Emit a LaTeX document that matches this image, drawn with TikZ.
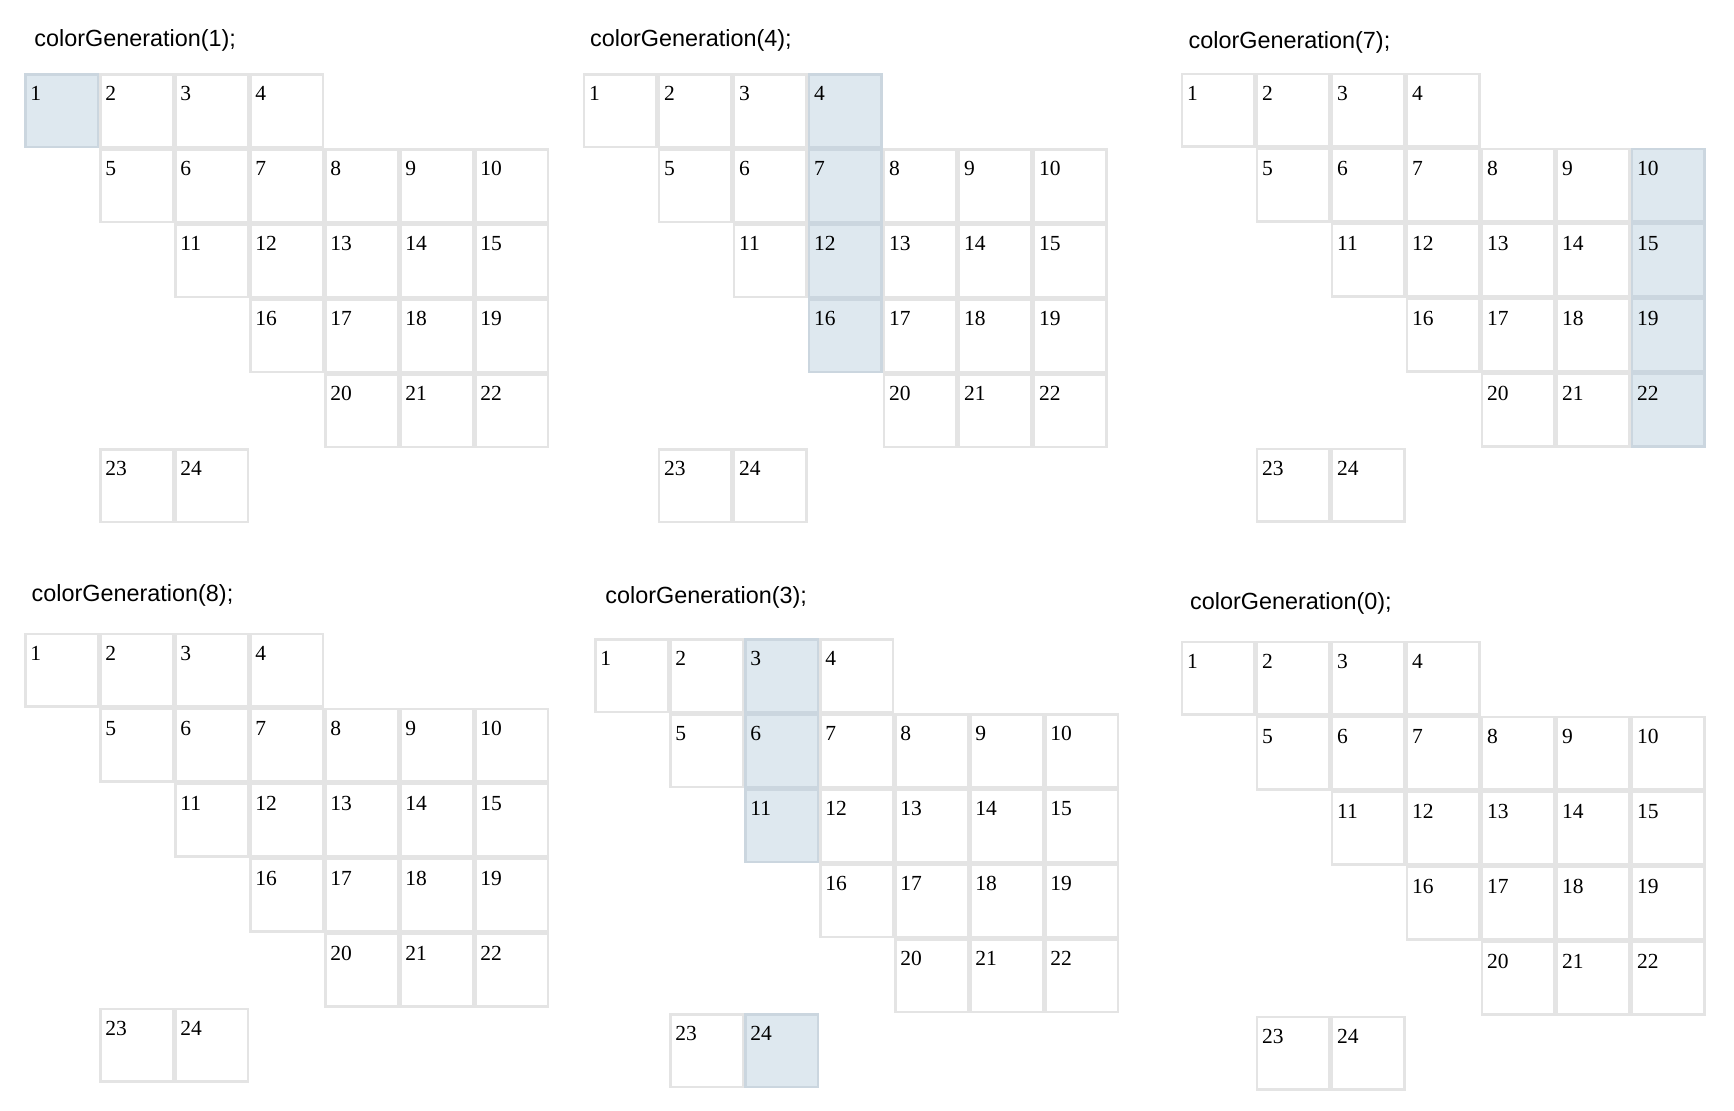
\documentclass[tikz,border=0pt]{standalone}
\usepackage{fontspec}
\setmainfont{Liberation Serif}
\newfontfamily\headfont{Liberation Sans}
\definecolor{cellline}{RGB}{228,228,228}
\definecolor{hlfill}{RGB}{222,232,239}
\definecolor{hlline}{RGB}{203,214,223}

\begin{document}
\begin{tikzpicture}[x=0.5pt, y=-0.5pt,
    cell/.style 2 args={draw=#2, fill=#1, line width=1.25pt, rectangle, minimum size=36.25pt, inner sep=0pt, outer sep=0pt},
    num/.style={anchor=base west, inner sep=0pt, font=\fontsize{10.75}{12}\selectfont},
    heading/.style={anchor=base west, inner sep=0pt, font=\headfont\fontsize{11.7}{14}\selectfont}]
    \useasboundingbox (0,0) rectangle (1734,1111);
    \foreach \p/\lx/\ty/\tx/\by/\g in {1/24/73.3/34/46.7/1, 2/582.7/73.3/589.7/46.7/4, 3/1180.7/72.7/1188.3/48.3/7,
        4/24/632.7/31.3/601.7/8, 5/594/638.3/605/603.3/3, 6/1180.7/640.7/1189.7/610/0}{
        \node (head\p) [heading] at (\tx,\by) {colorGeneration(\g);};
        \foreach \n/\c/\r in {1/0/0, 2/1/0, 3/2/0, 4/3/0,
            5/1/1, 6/2/1, 7/3/1, 8/4/1, 9/5/1, 10/6/1,
            11/2/2, 12/3/2, 13/4/2, 14/5/2, 15/6/2,
            16/3/3, 17/4/3, 18/5/3, 19/6/3,
            20/4/4, 21/5/4, 22/6/4,
            23/1/5, 24/2/5}{
            \ifnum\c=\numexpr\g-1\relax \def\fc{hlfill}\def\lc{hlline}\else \def\fc{white}\def\lc{cellline}\fi
            \node (p\p-\n) [cell={\fc}{\lc}] at (\lx+\c*75+37.5, \ty+\r*75+37.5) {};
            \node (t\p-\n) [num] at (\lx+\c*75+6, \ty+\r*75+27.5) {\n};
        }
    }
\end{tikzpicture}
\end{document}
